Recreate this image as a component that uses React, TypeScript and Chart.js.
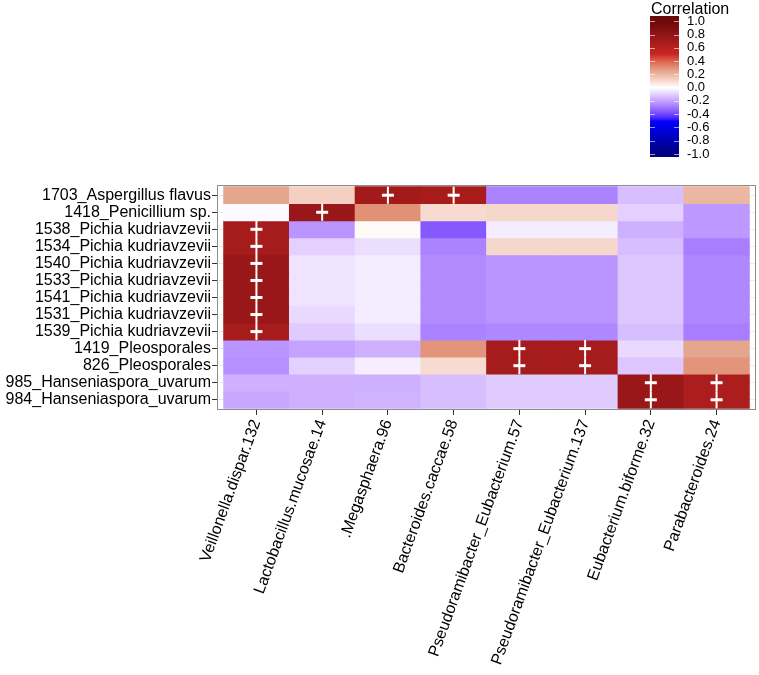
import React, { useEffect, useRef } from "react";
import { Chart, registerables } from "chart.js";

Chart.register(...registerables);

const rowLabels = [
  "1703_Aspergillus flavus",
  "1418_Penicillium sp.",
  "1538_Pichia kudriavzevii",
  "1534_Pichia kudriavzevii",
  "1540_Pichia kudriavzevii",
  "1533_Pichia kudriavzevii",
  "1541_Pichia kudriavzevii",
  "1531_Pichia kudriavzevii",
  "1539_Pichia kudriavzevii",
  "1419_Pleosporales",
  "826_Pleosporales",
  "985_Hanseniaspora_uvarum",
  "984_Hanseniaspora_uvarum",
];

const colLabels = [
  "Veillonella.dispar.132",
  "Lactobacillus.mucosae.14",
  ".Megasphaera.96",
  "Bacteroides.caccae.58",
  "Pseudoramibacter_Eubacterium.57",
  "Pseudoramibacter_Eubacterium.137",
  "Eubacterium.biforme.32",
  "Parabacteroides.24",
];

// correlation values per row (columns in colLabels order)
const r1703 = [0.25, 0.13, 0.71, 0.68, -0.27, -0.27, -0.14, 0.2];
const r1418 = [-0.01, 0.76, 0.3, 0.1, 0.11, 0.11, -0.1, -0.22];
const r1538 = [0.69, -0.23, 0.015, -0.36, -0.04, -0.04, -0.17, -0.22];
const r1534 = [0.69, -0.1, -0.07, -0.27, 0.11, 0.11, -0.14, -0.28];
const r1540 = [0.76, -0.06, -0.04, -0.25, -0.23, -0.23, -0.12, -0.26];
const r1533 = [0.76, -0.06, -0.04, -0.25, -0.23, -0.23, -0.12, -0.26];
const r1541 = [0.76, -0.06, -0.04, -0.25, -0.23, -0.23, -0.12, -0.26];
const r1531 = [0.76, -0.08, -0.04, -0.25, -0.23, -0.23, -0.12, -0.26];
const r1539 = [0.69, -0.11, -0.07, -0.27, -0.26, -0.26, -0.14, -0.28];
const r1419 = [-0.23, -0.2, -0.17, 0.29, 0.69, 0.69, -0.08, 0.25];
const r826 = [-0.24, -0.1, -0.035, 0.1, 0.69, 0.69, -0.12, 0.29];
const r985 = [-0.17, -0.17, -0.17, -0.14, -0.11, -0.11, 0.76, 0.66];
const r984 = [-0.19, -0.17, -0.16, -0.14, -0.11, -0.11, 0.76, 0.66];

const values = [r1703, r1418, r1538, r1534, r1540, r1533, r1541, r1531, r1539, r1419, r826, r985, r984];

// significant cells ("+") : column indices per row
const sig1703 = [2, 3];
const sig1418 = [1];
const sigPichia = [0];
const sigPleo = [4, 5];
const sigHans = [6, 7];
const significant = [sig1703, sig1418, sigPichia, sigPichia, sigPichia, sigPichia, sigPichia, sigPichia, sigPichia, sigPleo, sigPleo, sigHans, sigHans];

const legendTicks = [1.0, 0.8, 0.6, 0.4, 0.2, 0.0, -0.2, -0.4, -0.6, -0.8, -1.0];
const legendTickLabels = ["1.0", "0.8", "0.6", "0.4", "0.2", "0.0", "-0.2", "-0.4", "-0.6", "-0.8", "-1.0"];

const stopValues = [-1, -0.5, 0, 0.25, 0.5, 1];
const stopColors = ["#000080", "#0000FF", "#FFFFFF", "#E4A68C", "#CD2626", "#6B0A0A"];

const FONT = "'Liberation Sans', Arial, Helvetica, sans-serif";

// ---- Lab interpolation ----
function hexToRgb(h: string) {
  const n = parseInt(h.slice(1), 16);
  return [(n >> 16) & 255, (n >> 8) & 255, n & 255];
}
function toLin(c: number) {
  c /= 255;
  return c <= 0.04045 ? c / 12.92 : Math.pow((c + 0.055) / 1.055, 2.4);
}
function fromLin(c: number) {
  const v = c <= 0.0031308 ? 12.92 * c : 1.055 * Math.pow(c, 1 / 2.4) - 0.055;
  return Math.max(0, Math.min(255, Math.round(v * 255)));
}
const Xn = 0.95047, Yn = 1.0, Zn = 1.08883;
function f(t: number) {
  return t > 216 / 24389 ? Math.cbrt(t) : (t * 24389 / 27 + 16) / 116;
}
function finv(t: number) {
  return t * t * t > 216 / 24389 ? t * t * t : (116 * t - 16) * 27 / 24389;
}
function rgbToLab(rgb: number[]) {
  const r = toLin(rgb[0]), g = toLin(rgb[1]), b = toLin(rgb[2]);
  const X = 0.4124 * r + 0.3576 * g + 0.1805 * b;
  const Y = 0.2126 * r + 0.7152 * g + 0.0722 * b;
  const Z = 0.0193 * r + 0.1192 * g + 0.9505 * b;
  const fx = f(X / Xn), fy = f(Y / Yn), fz = f(Z / Zn);
  return [116 * fy - 16, 500 * (fx - fy), 200 * (fy - fz)];
}
function labToRgb(lab: number[]) {
  const fy = (lab[0] + 16) / 116;
  const fx = fy + lab[1] / 500;
  const fz = fy - lab[2] / 200;
  const X = Xn * finv(fx), Y = Yn * finv(fy), Z = Zn * finv(fz);
  const r = 3.2406 * X - 1.5372 * Y - 0.4986 * Z;
  const g = -0.9689 * X + 1.8758 * Y + 0.0415 * Z;
  const b = 0.0557 * X - 0.204 * Y + 1.057 * Z;
  return [fromLin(Math.max(0, r)), fromLin(Math.max(0, g)), fromLin(Math.max(0, b))];
}
const stopLabs = stopColors.map((c) => rgbToLab(hexToRgb(c)));
function colorFor(v: number) {
  const x = Math.max(-1, Math.min(1, v));
  let i = 0;
  while (i < stopValues.length - 2 && x > stopValues[i + 1]) i++;
  const t = (x - stopValues[i]) / (stopValues[i + 1] - stopValues[i]);
  const a = stopLabs[i], b = stopLabs[i + 1];
  const lab = [a[0] + (b[0] - a[0]) * t, a[1] + (b[1] - a[1]) * t, a[2] + (b[2] - a[2]) * t];
  const rgb = labToRgb(lab);
  return `rgb(${rgb[0]},${rgb[1]},${rgb[2]})`;
}

const plusPlugin = {
  id: "plusMarks",
  afterDatasetsDraw(chart: any) {
    const { ctx, scales } = chart;
    const xs = scales.x, ys = scales.y;
    ctx.save();
    ctx.strokeStyle = "#ffffff";
    significant.forEach((cols, r) => {
      cols.forEach((c) => {
        const cx = xs.getPixelForValue(c + 0.5);
        const top = ys.getPixelForValue(r);
        const bot = ys.getPixelForValue(r + 1);
        const cy = (top + bot) / 2;
        ctx.lineWidth = 2;
        ctx.beginPath();
        ctx.moveTo(cx, top);
        ctx.lineTo(cx, bot);
        ctx.stroke();
        ctx.lineWidth = 3;
        ctx.beginPath();
        ctx.moveTo(cx - 6, cy);
        ctx.lineTo(cx + 6, cy);
        ctx.stroke();
      });
    });
    ctx.restore();
  },
  afterDraw(chart: any) {
    const { ctx, chartArea } = chart;
    ctx.save();
    // panel border
    ctx.strokeStyle = "#8c8c8c";
    ctx.lineWidth = 1;
    ctx.strokeRect(
      Math.round(chartArea.left) + 0.5,
      Math.round(chartArea.top) + 0.5,
      Math.round(chartArea.right - chartArea.left) - 1,
      Math.round(chartArea.bottom - chartArea.top) - 1
    );
    // legend colour bar
    const barL = 650, barR = 679, barT = 16, barB = 157;
    const yTop = 21.3, yBot = 154;
    const yFor = (v: number) => yTop + ((1 - v) / 2) * (yBot - yTop);
    for (let yy = barT; yy < barB; yy++) {
      const v = 1 - ((yy + 0.5 - yTop) / (yBot - yTop)) * 2;
      ctx.fillStyle = colorFor(v);
      ctx.fillRect(barL, yy, barR - barL, 1);
    }
    ctx.strokeStyle = "rgba(255,255,255,0.6)";
    ctx.lineWidth = 1;
    legendTicks.forEach((v) => {
      const yy = Math.round(yFor(v)) + 0.5;
      ctx.beginPath();
      ctx.moveTo(barL, yy);
      ctx.lineTo(barL + 5, yy);
      ctx.moveTo(barR - 5, yy);
      ctx.lineTo(barR, yy);
      ctx.stroke();
    });
    ctx.fillStyle = "#000";
    ctx.font = `13px ${FONT}`;
    ctx.textAlign = "left";
    ctx.textBaseline = "middle";
    legendTicks.forEach((v, i) => {
      ctx.fillText(legendTickLabels[i], 687, yFor(v));
    });
    ctx.font = `16px ${FONT}`;
    ctx.textBaseline = "alphabetic";
    ctx.fillText("Correlation", 651, 13.5);
    ctx.restore();
  },
};

export default function App() {
  const ref = useRef<HTMLCanvasElement>(null);
  useEffect(() => {
    if (!ref.current) return;
    const datasets = values.map((row, r) => ({
      label: rowLabels[r],
      data: colLabels.map((_, c) => ({ x: c + 0.5, y: [r, r + 1] })),
      backgroundColor: row.map((v) => colorFor(v)),
      borderWidth: 0,
      grouped: false,
      barPercentage: 1,
      categoryPercentage: 1,
    }));
    const chart = new Chart(ref.current, {
      type: "bar",
      data: { datasets: datasets as any },
      options: {
        responsive: false,
        animation: false,
        devicePixelRatio: 1,
        layout: { padding: { top: 185, right: 3, left: 0, bottom: 0 } },
        plugins: { legend: { display: false }, tooltip: { enabled: false } },
        scales: {
          x: {
            type: "linear",
            min: -0.1,
            max: 8.1,
            offset: false,
            afterFit: (s: any) => {
              s.height = 265;
            },
            afterBuildTicks: (s: any) => {
              s.ticks = colLabels.map((_, i) => ({ value: i + 0.5 }));
            },
            grid: { color: "#ebebeb", tickColor: "#333333", tickLength: 5, offset: false },
            border: { display: false },
            ticks: {
              autoSkip: false,
              minRotation: 70,
              maxRotation: 70,
              padding: 2,
              color: "#000",
              font: { family: FONT, size: 16 },
              callback: (v: any) => colLabels[Math.round(Number(v) - 0.5)] ?? "",
            },
          },
          y: {
            type: "linear",
            min: -0.1,
            max: 13.1,
            reverse: true,
            beginAtZero: false,
            afterFit: (s: any) => {
              s.width = 217;
            },
            afterBuildTicks: (s: any) => {
              s.ticks = rowLabels.map((_, i) => ({ value: i + 0.5 }));
            },
            grid: { color: "#ebebeb", tickColor: "#333333", tickLength: 5 },
            border: { display: false },
            ticks: {
              autoSkip: false,
              padding: 1,
              color: "#000",
              font: { family: FONT, size: 16 },
              callback: (v: any) => rowLabels[Math.round(Number(v) - 0.5)] ?? "",
            },
          },
        },
      },
      plugins: [plusPlugin],
    });
    return () => chart.destroy();
  }, []);
  return (
    <div style={{ position: "fixed", left: 0, top: 0, width: 759, height: 675, background: "#fff" }}>
      <canvas ref={ref} width={759} height={675} style={{ width: 759, height: 675, display: "block" }} />
    </div>
  );
}
